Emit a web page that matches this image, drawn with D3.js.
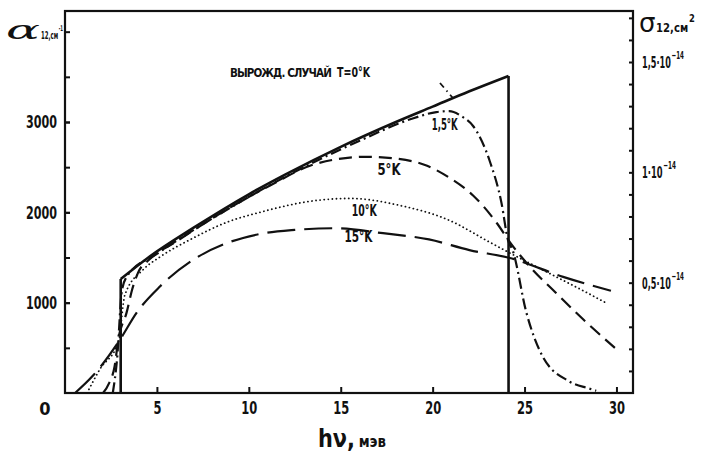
<!DOCTYPE html>
<html>
<head>
<meta charset="utf-8">
<script src="https://cdn.jsdelivr.net/npm/d3@7"></script>
<style>
  body { margin: 0; background: #fff; }
  svg text {
    font-family: "Liberation Sans Narrow", "DejaVu Sans Condensed", sans-serif;
    font-weight: bold;
    fill: #111;
  }
</style>
</head>
<body>
<div id="chart"></div>
<script>
/* Absorption coefficient alpha_12 (cm^-1) versus photon energy h*nu (meV),
   degenerate case T = 0 K and smeared curves for 1.5, 5, 10 and 15 K.
   Values. */

/* Tick values. */
const xTicks = [5, 10, 15, 20, 25, 30];
const alphaLabelled = [1000, 2000, 3000];
const alphaMinor = [500, 1000, 1500, 2000, 2500, 3000, 3500, 4000];
const sigmaMinor = [0.1, 0.2, 0.3, 0.4, 0.5, 0.6, 0.7, 0.8, 0.9, 1.0,
                    1.1, 1.2, 1.3, 1.4, 1.5, 1.6, 1.7];
const sigmaLabelled = [0.5, 1.0, 1.5];
const sigmaMantissa = ["0,5·10", "1·10", "1,5·10"];

/* T = 0 K (solid): threshold jump, smooth rise, sharp cut-off. */
const e0 = [3.03, 4.5, 7, 10, 12, 15, 18, 20, 22, 24.13];
const a0 = [1262, 1495, 1830, 2200, 2420, 2725, 3000, 3170, 3340, 3510];

/* T = 1.5 K (dash-dot) */
const e15 = [2.6, 2.83, 3.1, 3.4, 5, 8, 12, 16, 19, 20.2, 20.9, 21.6, 22.2,
             23.1, 23.75, 24.1, 24.35, 25.1, 25.98, 27.4, 28.5, 28.9];
const a15 = [0, 370, 1140, 1300, 1540, 1930, 2395, 2790, 3045, 3110, 3120,
             3060, 2956, 2571, 2099, 1692, 1582, 890, 407, 132, 50, 25];

/* T = 5 K (dashed) */
const e5 = [2.07, 2.4, 2.7, 2.9, 3.35, 3.65, 3.97, 4.6, 6, 9, 11, 13.7, 16.4,
            18, 19.7, 20.9, 22.2, 23.5, 24.2, 25.3, 26.7, 28.2, 30.0];
const a5 = [0, 110, 297, 593, 890, 1143, 1330, 1480, 1670, 2055, 2280, 2540,
            2615, 2595, 2515, 2385, 2187, 1879, 1670, 1396, 1110, 813, 484];

/* T = 10 K (dotted) */
const e10 = [1.2, 1.9, 2.9, 3.26, 4.24, 5.16, 6.96, 8.8, 10.6, 13.7, 15.5,
             18.2, 20.9, 23.1, 24.2, 26.3, 28.4, 29.5];
const a10 = [0, 264, 560, 1088, 1363, 1505, 1714, 1890, 2000, 2132, 2154,
             2077, 1912, 1670, 1550, 1330, 1110, 990];

/* T = 15 K (long dashes) */
const e150 = [0.55, 1.5, 3.0, 3.9, 5.15, 6.96, 8.8, 10.6, 12.5, 14.6, 17.3,
              19.8, 22.0, 24.2, 27.1, 29.7];
const a150 = [0, 187, 593, 890, 1176, 1473, 1659, 1760, 1805, 1824, 1769,
              1700, 1582, 1494, 1286, 1132];

/* Leader from the T=0 label down to the curve, in data units. */
const leaderE = [20.4, 21.1];
const leaderA = [3432, 3266];

const curveNames = ["1,5°K", "5°K", "10°K", "15°K"];
const caseLabel = "ВЫРОЖД. СЛУЧАЙ";
const caseTemp = "T=0°K";


/* Drawing area. */
const width = 702, height = 459;
const margin = {top: 11, right: 69, bottom: 66, left: 65};

const svg = d3.select("#chart").append("svg")
    .attr("width", width)
    .attr("height", height);

const x = d3.scaleLinear()
    .domain([0, 30.9])
    .range([margin.left, width - margin.right]);
const y = d3.scaleLinear()
    .domain([0, 3000])
    .range([height - margin.bottom, 122]);
const ys = d3.scaleLinear()
    .domain([0, 1.5])
    .range([height - margin.bottom, 62]);

/* Squeeze a text to a given width: the scan uses a very narrow face. */
function squeeze(sel, w) {
    sel.attr("textLength", w).attr("lengthAdjust", "spacingAndGlyphs");
}

/* Place a (multi-tspan) text at (px, py) and scale it horizontally so that
   it is w pixels wide. */
function fit(t, px, py, w) {
    const k = w / t.node().getBBox().width;
    t.attr("transform", "translate(" + px + "," + py + ") scale(" + k + ",1)");
}

/* Frame. */
svg.append("rect")
    .attr("x", margin.left)
    .attr("y", margin.top)
    .attr("width", width - margin.left - margin.right)
    .attr("height", height - margin.top - margin.bottom)
    .attr("fill", "none")
    .attr("stroke", "#111")
    .attr("stroke-width", 2.2);

/* Bottom axis: ticks point inward. */
const gx = svg.append("g")
    .attr("transform", "translate(0," + (height - margin.bottom) + ")")
    .call(d3.axisBottom(x).tickValues(xTicks).tickSize(-6)
          .tickSizeOuter(0).tickPadding(8));
gx.selectAll("text").attr("font-size", 18)
    .attr("textLength", d => String(d).length * 8)
    .attr("lengthAdjust", "spacingAndGlyphs");

/* Left axis: minor ticks every 500, labels every 1000. */
svg.append("g")
    .attr("transform", "translate(" + margin.left + ",0)")
    .call(d3.axisLeft(y).tickValues(alphaMinor).tickSize(-5)
          .tickSizeOuter(0).tickFormat(""));
const gy = svg.append("g")
    .attr("transform", "translate(" + margin.left + ",0)")
    .call(d3.axisLeft(y).tickValues(alphaLabelled).tickSize(-5)
          .tickSizeOuter(0).tickPadding(8).tickFormat(d3.format("d")));
gy.selectAll("text").attr("font-size", 18)
    .attr("textLength", 31)
    .attr("lengthAdjust", "spacingAndGlyphs");

/* Right axis for sigma. */
svg.append("g")
    .attr("transform", "translate(" + (width - margin.right) + ",0)")
    .call(d3.axisRight(ys).tickValues(sigmaMinor).tickSize(-4)
          .tickSizeOuter(0).tickFormat(""));

svg.selectAll(".domain").remove();
svg.selectAll(".tick line").attr("stroke", "#111").attr("stroke-width", 2);

/* Right-hand labels n*10^-14 */
const rx = width - margin.right + 9;
sigmaLabelled.forEach((v, i) => {
    const t = svg.append("text").attr("font-size", 16);
    t.append("tspan").text(sigmaMantissa[i]);
    t.append("tspan").attr("dy", -9).attr("dx", 1).attr("font-size", 11)
        .text("−14");
    fit(t, rx, ys(v) + 6, sigmaMantissa[i].length > 4 ? 42 : 34);
});

/* Origin label. */
svg.append("text")
    .attr("x", 45)
    .attr("y", 415)
    .attr("text-anchor", "middle")
    .attr("font-size", 18)
    .text("0");

/* Axis titles. */
svg.append("text")
    .attr("x", 6)
    .attr("y", 39)
    .attr("font-size", 26)
    .style("font-family", "'DejaVu Serif', serif")
    .style("font-style", "italic")
    .style("font-weight", "normal")
    .call(squeeze, 34)
    .text("α");
const aSub = svg.append("text").attr("font-size", 11);
aSub.append("tspan").text("12,см");
aSub.append("tspan").attr("dy", -8).attr("dx", 1).attr("font-size", 8).text("-1");
fit(aSub, 41, 39, 22);

svg.append("text")
    .attr("x", 639)
    .attr("y", 32)
    .attr("font-size", 26)
    .style("font-family", "'DejaVu Sans', sans-serif")
    .style("font-weight", "normal")
    .text("σ");
const sSub = svg.append("text").attr("font-size", 12);
sSub.append("tspan").text("12,см");
sSub.append("tspan").attr("dy", -10).attr("dx", 1).attr("font-size", 10).text("2");
fit(sSub, 656, 32, 39);

const xTitle = svg.append("text").attr("font-size", 25);
xTitle.append("tspan").text("hν,");
xTitle.append("tspan").attr("dx", 4).attr("font-size", 16).text("мэв");
fit(xTitle, 318, 447, 68);

/* Curves. */
const line = d3.line()
    .x(d => x(d[0]))
    .y(d => y(d[1]))
    .curve(d3.curveMonotoneX);

const series = [
    {e: e150, a: a150, dash: "28,9", w: 2.2, cap: "butt"},
    {e: e10, a: a10, dash: "0.1,4", w: 1.8, cap: "round"},
    {e: e5, a: a5, dash: "13,7", w: 2.2, cap: "butt"},
    {e: e15, a: a15, dash: "11,4,2,4", w: 2.2, cap: "butt"}
];
series.forEach(s => {
    svg.append("path")
        .attr("d", line(d3.zip(s.e, s.a)))
        .attr("fill", "none")
        .attr("stroke", "#111")
        .attr("stroke-width", s.w)
        .attr("stroke-linecap", s.cap)
        .attr("stroke-dasharray", s.dash);
});

/* Solid T = 0 curve with its vertical jump and cut-off. */
svg.append("path")
    .attr("d", line(d3.zip(e0, a0)))
    .attr("fill", "none")
    .attr("stroke", "#111")
    .attr("stroke-width", 2.6);
const edges = [0, e0.length - 1];
svg.selectAll("line.edge")
    .data(edges)
    .enter()
    .append("line")
    .attr("class", "edge")
    .attr("x1", i => x(e0[i]))
    .attr("x2", i => x(e0[i]))
    .attr("y1", y(0))
    .attr("y2", i => y(a0[i]))
    .attr("stroke", "#111")
    .attr("stroke-width", 2.6);

/* Leader line for the T=0 label. */
svg.append("path")
    .attr("d", d3.line().x(d => x(d[0])).y(d => y(d[1]))(d3.zip(leaderE, leaderA)))
    .attr("stroke", "#111")
    .attr("stroke-width", 1.8)
    .attr("stroke-dasharray", "6,4,1.5,4");

/* Labels. */
svg.append("text")
    .attr("x", x(8.97))
    .attr("y", y(3498))
    .attr("font-size", 11.5)
    .attr("textLength", 102)
    .attr("lengthAdjust", "spacing")
    .text(caseLabel);
svg.append("text")
    .attr("x", x(14.8))
    .attr("y", y(3498))
    .attr("font-size", 14)
    .call(squeeze, 33)
    .text(caseTemp);

const labelE = [19.95, 17.0, 15.6, 15.2];
const labelA = [2911, 2413, 1960, 1672];
const labelW = [26, 23, 25, 28];
svg.selectAll("text.curve")
    .data(curveNames)
    .enter()
    .append("text")
    .attr("class", "curve")
    .attr("x", (d, i) => x(labelE[i]))
    .attr("y", (d, i) => y(labelA[i]))
    .attr("font-size", 16)
    .attr("textLength", (d, i) => labelW[i])
    .attr("lengthAdjust", "spacingAndGlyphs")
    .text(d => d);
</script>
</body>
</html>
